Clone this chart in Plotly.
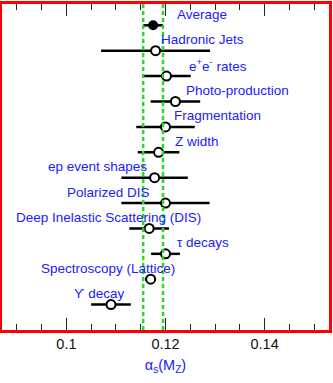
import plotly.graph_objects as go

# ---- data ----
labels = ["Average", "Hadronic Jets", "e<sup>+</sup>e<sup>-</sup> rates", "Photo-production",
          "Fragmentation", "Z width", "ep event shapes", "Polarized DIS",
          "Deep Inelastic Scattering (DIS)", "\u03c4 decays", "Spectroscopy (Lattice)",
          "\u03d2 decay"]
alpha_s = [0.1175, 0.118, 0.1202, 0.122, 0.120, 0.1186, 0.1178, 0.120, 0.1167, 0.120, 0.117, 0.109]
alpha_err = [0.002, 0.011, 0.0049, 0.005, 0.0059, 0.0042, 0.0067, 0.0089, 0.004, 0.0029, 0.0011, 0.004]
label_x = [0.1219, 0.1187, 0.1243, 0.1237, 0.1213, 0.1215, 0.0959, 0.0997, 0.0894, 0.1219, 0.0944, 0.1011]
band = [alpha_s[0] - alpha_err[0], alpha_s[0] + alpha_err[0]]
rows = list(range(len(labels), 0, -1))

BLUE = "#2020ff"
FONT = "Liberation Sans, Arial, sans-serif"
fig = go.Figure()

# measurements (open circles)
fig.add_trace(go.Scatter(
    x=alpha_s[1:], y=rows[1:], mode="markers",
    error_x=dict(type="data", array=alpha_err[1:], thickness=2.5, width=0, color="black"),
    marker=dict(symbol="circle", size=9, color="white", line=dict(color="black", width=2)),
    showlegend=False, hoverinfo="x"))
# average (filled)
fig.add_trace(go.Scatter(
    x=alpha_s[:1], y=rows[:1], mode="markers",
    error_x=dict(type="data", array=alpha_err[:1], thickness=2.5, width=0, color="black"),
    marker=dict(symbol="circle", size=10, color="black"),
    showlegend=False, hoverinfo="x"))

for b in band:
    fig.add_shape(type="line", x0=b, x1=b, xref="x", yref="paper", y0=0, y1=1,
                  line=dict(color="#22dd22", width=2.5, dash="4px,3px"))

for lab, lx, ry in zip(labels, label_x, rows):
    fig.add_annotation(x=lx, y=ry, xref="x", yref="y", text=lab, showarrow=False,
                       xanchor="left", yanchor="middle", yshift=11,
                       font=dict(family=FONT, size=13.5, color=BLUE))

fig.update_layout(
    width=333, height=383,
    margin=dict(l=2, r=1, t=2, b=53),
    paper_bgcolor="white", plot_bgcolor="white",
    xaxis=dict(range=[0.087, 0.153], tickvals=[0.1, 0.12, 0.14], ticktext=["0.1", "0.12", "0.14"],
               ticks="inside", ticklen=12, tickwidth=1, tickcolor="#222",
               minor=dict(dtick=0.005, tick0=0.09, ticks="inside", ticklen=6, tickwidth=1, tickcolor="#222"),
               showline=True, linecolor="red", linewidth=3, mirror="allticks",
               showgrid=False, zeroline=False, ticklabelstandoff=-1,
               tickfont=dict(family=FONT, size=14.5, color="#111"),
               title=dict(text="\u03b1<sub>s</sub>(M<sub>Z</sub>)", standoff=9,
                          font=dict(family=FONT, size=14.5, color=BLUE))),
    yaxis=dict(range=[0, 12.84], showticklabels=False, ticks="", showgrid=False, zeroline=False,
               showline=True, linecolor="red", linewidth=3, mirror=True),
)

fig.write_html("out.html", config={"displayModeBar": False},
               post_script="document.body.style.margin='0';")
